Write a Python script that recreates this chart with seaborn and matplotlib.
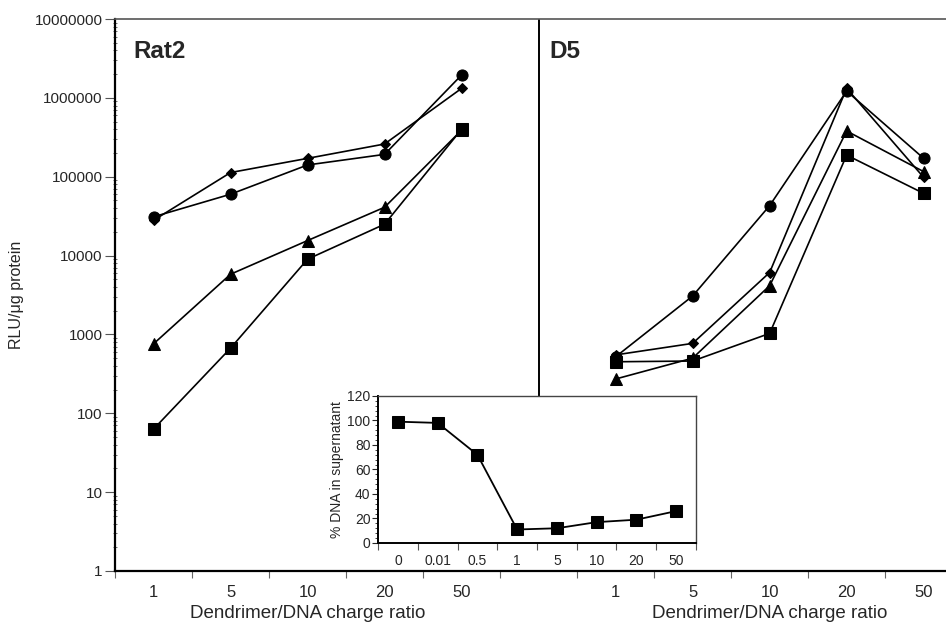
import numpy as np
import pandas as pd
import matplotlib
matplotlib.use("Agg")
import matplotlib.pyplot as plt
import seaborn as sns
from matplotlib.ticker import FixedLocator, LogLocator, NullFormatter, MultipleLocator

sns.set_theme(style="ticks")
plt.rcParams["font.family"] = ["Liberation Sans", "DejaVu Sans"]

# charge ratios for each cell line
ratios = ["1", "5", "10", "20", "50"]

# Rat2 cells (RLU / ug protein)
rat2_circle = [31000, 60000, 141000, 192000, 1950000]
rat2_diamond = [28000, 113000, 171000, 260000, 1320000]
rat2_triangle = [760, 5800, 15500, 41000, 390000]
rat2_square = [63, 670, 9000, 25000, 400000]

# D5 cells (RLU / ug protein)
d5_circle = [520, 3070, 43000, 1220000, 171000]
d5_diamond = [550, 770, 6100, 1320000, 98000]
d5_triangle = [272, 500, 4150, 380000, 116000]
d5_square = [450, 460, 1030, 188000, 61500]

# DNA remaining in supernatant (inset)
inset_ratios = ["0", "0.01", "0.5", "1", "5", "10", "20", "50"]
inset_pct = [99, 98, 72, 11, 12, 17, 19, 26]

markers = {"circle": ("o", 8), "diamond": ("D", 5.5),
           "triangle": ("^", 8), "square": ("s", 8)}

rows = []
panels = {
    "Rat2": (0, {"circle": rat2_circle, "diamond": rat2_diamond,
                 "triangle": rat2_triangle, "square": rat2_square}),
    "D5": (6, {"circle": d5_circle, "diamond": d5_diamond,
               "triangle": d5_triangle, "square": d5_square}),
}
for panel, (offset, series) in panels.items():
    for name, vals in series.items():
        for i, (r, v) in enumerate(zip(ratios, vals)):
            rows.append({"panel": panel, "series": name, "pos": offset + i,
                         "ratio": r, "rlu": v})
df = pd.DataFrame(rows)

fig = plt.figure(figsize=(9.46, 6.28), dpi=100)
ax = fig.add_axes([0.1216, 0.0908, 0.8784, 0.8789])

for (panel, name), g in df.groupby(["panel", "series"]):
    m, ms = markers[name]
    sns.lineplot(data=g, x="pos", y="rlu", ax=ax, color="black", lw=1.2,
                 marker=m, markersize=ms, markeredgecolor="black",
                 markerfacecolor="black", legend=False)

ax.set_yscale("log")
ax.set_ylim(1, 1e7)
ax.set_xlim(-0.5, 10.29)
ax.yaxis.set_major_locator(FixedLocator([10 ** k for k in range(8)]))
ax.set_yticklabels([str(10 ** k) for k in range(8)])
ax.yaxis.set_minor_locator(LogLocator(base=10, subs=np.arange(2, 10)))
ax.yaxis.set_minor_formatter(NullFormatter())
ax.tick_params(axis="y", which="major", length=7, width=0.8, labelsize=11, pad=2,
               color="#555555")
ax.tick_params(axis="y", which="minor", length=2.5, width=0.6, direction="inout",
               color="#555555")

# category labels at the slot centres, tick marks at the slot boundaries
centers = list(range(0, 5)) + list(range(6, 11))
ax.xaxis.set_major_locator(FixedLocator(centers))
ax.set_xticklabels(ratios + ratios)
ax.xaxis.set_minor_locator(FixedLocator([k + 0.5 for k in range(-1, 10)]))
ax.tick_params(axis="x", which="major", length=0, labelsize=12, pad=10)
ax.tick_params(axis="x", which="minor", length=5, width=0.8, color="#666666")

for s in ["left", "bottom"]:
    ax.spines[s].set_linewidth(1.6)
    ax.spines[s].set_color("black")
ax.spines["top"].set_linewidth(1.2)
ax.spines["top"].set_color("#555555")
ax.spines["right"].set_visible(False)

ax.set_xlabel("")
ax.set_ylabel("RLU/\u03bcg protein", fontsize=11.5)
ax.yaxis.set_label_coords(-0.11, 0.5)

trans = ax.get_xaxis_transform()
ax.text(2, -0.077, "Dendrimer/DNA charge ratio", transform=trans,
        ha="center", va="center", fontsize=13.5)
ax.text(8, -0.077, "Dendrimer/DNA charge ratio", transform=trans,
        ha="center", va="center", fontsize=13.5)

# cell line names
ax.text(-0.26, 0.962, "Rat2", transform=trans, ha="left", va="top",
        fontsize=17.5, fontweight="bold")
ax.text(5.14, 0.962, "D5", transform=trans, ha="left", va="top",
        fontsize=17.5, fontweight="bold")

# divider between the two cell lines
ax.axvline(5, ymin=0.317, ymax=1, color="black", lw=1.4)

# inset: DNA in supernatant
axi = fig.add_axes([0.3996, 0.1354, 0.3361, 0.2341])
inset_df = pd.DataFrame({"pos": np.arange(len(inset_pct)), "pct": inset_pct})
sns.lineplot(data=inset_df, x="pos", y="pct", ax=axi, color="black", lw=1.3,
             marker="s", markersize=8, markeredgecolor="black",
             markerfacecolor="black", legend=False)
axi.set_xlim(-0.5, 7.5)
axi.set_ylim(0, 120)
axi.yaxis.set_major_locator(MultipleLocator(20))
axi.yaxis.set_minor_locator(MultipleLocator(4))
axi.xaxis.set_major_locator(FixedLocator(range(8)))
axi.set_xticklabels(inset_ratios)
axi.xaxis.set_minor_locator(FixedLocator([k + 0.5 for k in range(-1, 8)]))
axi.tick_params(axis="x", which="major", length=0, labelsize=10, pad=8)
axi.tick_params(axis="x", which="minor", length=5, width=0.8, color="#555555")
axi.tick_params(axis="y", which="major", length=4, width=0.8, labelsize=10, pad=1.5)
axi.tick_params(axis="y", which="minor", length=2, width=0.6)
for s in ["left", "bottom"]:
    axi.spines[s].set_linewidth(1.4)
    axi.spines[s].set_color("black")
for s in ["top", "right"]:
    axi.spines[s].set_linewidth(1.0)
    axi.spines[s].set_color("#444444")
axi.set_xlabel("")
axi.set_ylabel("% DNA in supernatant", fontsize=10, labelpad=2)

fig.savefig("out.png", dpi=100)
